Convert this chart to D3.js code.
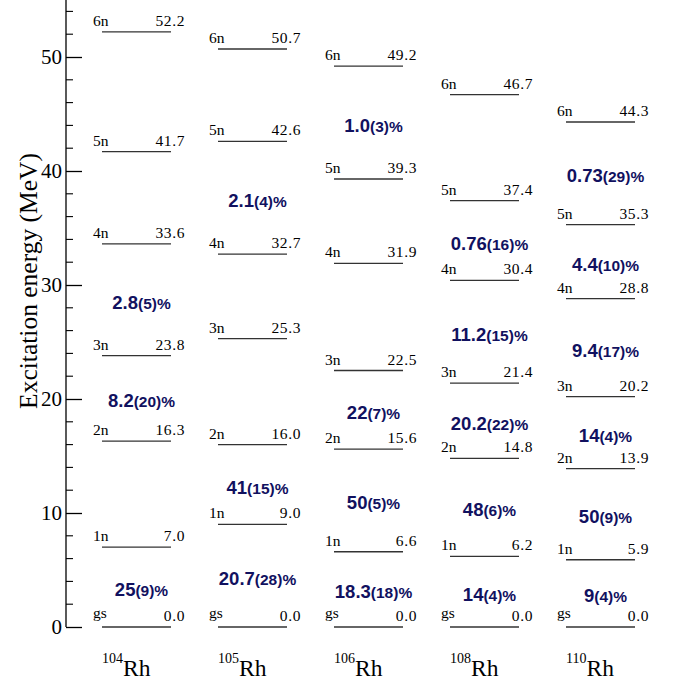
<!DOCTYPE html>
<html>
<head>
<meta charset="utf-8">
<script src="https://cdn.jsdelivr.net/npm/d3@7/dist/d3.min.js"></script>
<style>
  html, body { margin: 0; padding: 0; background: #fff; }
  svg { display: block; }
</style>
</head>
<body>
<svg id="chart" width="678" height="684"></svg>
<script>
// ---- data ----
const nuclei = ["104", "105", "106", "108", "110"];
const levelNames = ["gs", "1n", "2n", "3n", "4n", "5n", "6n"];
const energies104 = [0.0, 7.0, 16.3, 23.8, 33.6, 41.7, 52.2];
const energies105 = [0.0, 9.0, 16.0, 25.3, 32.7, 42.6, 50.7];
const energies106 = [0.0, 6.6, 15.6, 22.5, 31.9, 39.3, 49.2];
const energies108 = [0.0, 6.2, 14.8, 21.4, 30.4, 37.4, 46.7];
const energies110 = [0.0, 5.9, 13.9, 20.2, 28.8, 35.3, 44.3];
// populations: [value, uncertainty, index of the level just below]
const pop104 = [["25", "9", 0], ["8.2", "20", 2], ["2.8", "5", 3]];
const pop105 = [["20.7", "28", 0], ["41", "15", 1], ["2.1", "4", 4]];
const pop106 = [["18.3", "18", 0], ["50", "5", 1], ["22", "7", 2], ["1.0", "3", 5]];
const pop108 = [["14", "4", 0], ["48", "6", 1], ["20.2", "22", 2], ["11.2", "15", 3], ["0.76", "16", 4]];
const pop110 = [["9", "4", 0], ["50", "9", 1], ["14", "4", 2], ["9.4", "17", 3], ["4.4", "10", 4], ["0.73", "29", 5]];
const yTicks = [0, 10, 20, 30, 40, 50];
const yTitle = "Excitation energy (MeV)";

const energies = [energies104, energies105, energies106, energies108, energies110];
const pops = [pop104, pop105, pop106, pop108, pop110];

// ---- layout ----
const svg = d3.select("#chart");
const axisX = 66;
const y = d3.scaleLinear().domain([0, 55]).range([627, 0]);
const x = d3.scalePoint().domain(nuclei).range([136.5, 600.5]);
const halfW = 34.5;
const serif = "'Liberation Serif', 'Times New Roman', serif";
const sans = "'Liberation Sans', Arial, sans-serif";
const popColor = "#11115f";

// y axis
const axisG = svg.append("g").attr("transform", `translate(${axisX},0)`);
const yAxis = d3.axisRight(y).tickValues(yTicks).tickSize(16).tickFormat("");
axisG.call(yAxis);
const minor = d3.range(0, 56, 2).filter(v => v % 10 !== 0);
axisG.call(g => g.select(".domain").remove());
axisG.append("line").attr("x1", 0).attr("x2", 0).attr("y1", y(55)).attr("y2", y(0))
  .attr("stroke", "#000").attr("stroke-width", 1.3);
axisG.selectAll(".tick line").attr("stroke", "#000").attr("stroke-width", 1.3);
axisG.selectAll(".minor").data(minor).enter().append("line")
  .attr("class", "minor")
  .attr("x1", 0).attr("x2", 7).attr("y1", d => y(d)).attr("y2", d => y(d))
  .attr("stroke", "#000").attr("stroke-width", 1.1);
svg.selectAll(".ytl").data(yTicks).enter().append("text")
  .attr("class", "ytl")
  .attr("x", axisX - 4).attr("y", d => y(d))
  .attr("dy", "0.35em")
  .attr("text-anchor", "end")
  .style("font-family", serif).attr("font-size", 21)
  .text(d => d);

svg.append("text")
  .attr("transform", `translate(37,281) rotate(-90)`)
  .attr("text-anchor", "middle")
  .style("font-family", serif).attr("font-size", 25.5)
  .text(yTitle);

// levels
nuclei.forEach((nuc, i) => {
  const cx = x(nuc);
  const g = svg.append("g");
  const lv = energies[i].map((e, k) => ({ e, name: levelNames[k] }));
  g.selectAll("line.level").data(lv).enter().append("line")
    .attr("class", "level")
    .attr("x1", cx - halfW).attr("x2", cx + halfW)
    .attr("y1", d => y(d.e)).attr("y2", d => y(d.e))
    .attr("stroke", "#333").attr("stroke-width", 1.3);
  g.selectAll("text.lname").data(lv).enter().append("text")
    .attr("class", "lname")
    .attr("x", cx - halfW - 9).attr("y", d => y(d.e) - 6 - (d.name === "gs" ? 3 : 0))
    .style("font-family", serif).attr("font-size", 15.5)
    .text(d => d.name);
  g.selectAll("text.lval").data(lv).enter().append("text")
    .attr("class", "lval")
    .attr("x", cx + halfW + 14).attr("y", d => y(d.e) - 6)
    .attr("text-anchor", "end")
    .style("font-family", serif).attr("font-size", 15.5)
    .attr("letter-spacing", 0.6)
    .text(d => d.e.toFixed(1));

  // populations
  const pl = g.selectAll("text.pop").data(pops[i]).enter().append("text")
    .attr("class", "pop")
    .attr("x", cx + 5)
    .attr("y", d => y((energies[i][d[2]] + energies[i][d[2] + 1]) / 2) + 9)
    .attr("text-anchor", "middle")
    .style("font-family", sans).attr("font-weight", "bold")
    .attr("fill", popColor);
  pl.append("tspan").attr("font-size", 18.5).text(d => d[0]);
  pl.append("tspan").attr("font-size", 15.5).text(d => "(" + d[1] + ")%");

  // nucleus label
  const t = svg.append("text")
    .attr("x", cx - halfW).attr("y", 676)
    .style("font-family", serif);
  t.append("tspan").attr("font-size", 14).attr("dy", -13).text(nuc);
  t.append("tspan").attr("font-size", 23.5).attr("dy", 13).text("Rh");
});
</script>
</body>
</html>
